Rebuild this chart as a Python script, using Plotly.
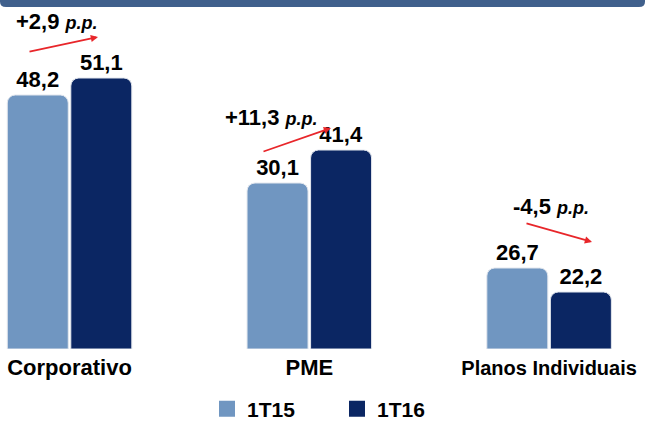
import plotly.graph_objects as go

# ---- data ----
categories = ["Corporativo", "PME", "Planos Individuais"]
labels_1T15 = ["48,2", "30,1", "26,7"]
labels_1T16 = ["51,1", "41,4", "22,2"]
# drawn bar heights (relative units as they appear in the picture)
heights_1T15 = [254, 166, 81]
heights_1T16 = [271, 199, 57]
changes = ["+2,9", "+11,3", "-4,5"]
series_names = ["1T15", "1T16"]

FONT = "Liberation Sans, Arial, sans-serif"
LIGHT = "#7096c1"
DARK = "#0b2663"

W, H = 645, 421
PLOT_TOP, PLOT_BOT = 49, 349
PH = PLOT_BOT - PLOT_TOP

def px(x):
    return x / W

def py(y):
    return (PLOT_BOT - y) / PH

fig = go.Figure()
for name, heights, labels, color in [
    (series_names[0], heights_1T15, labels_1T15, LIGHT),
    (series_names[1], heights_1T16, labels_1T16, DARK),
]:
    fig.add_trace(go.Bar(
        name=name, x=categories, y=heights,
        marker=dict(color=color, line=dict(color="#e3e7ee", width=1)),
        text=labels, textposition="outside", cliponaxis=False,
        textfont=dict(family=FONT, size=22, color="#000000"),
        texttemplate="<b>%{text}</b>", showlegend=False,
    ))
# legend entries with larger square swatches
for name, color in [(series_names[0], LIGHT), (series_names[1], DARK)]:
    fig.add_trace(go.Scatter(x=[None], y=[None], mode="markers",
                             name=f"<b>{name}</b>",
                             marker=dict(symbol="square", size=20, color=color)))

# change annotations: text center, arrow tail, arrow head (pixels)
ann_geo = [
    ((57, 22), (28, 52), (98, 37)),
    ((271, 117), (262, 152), (331, 128)),
    ((551, 206), (525, 223), (592, 242)),
]
annotations = []
for txt, (tc, tail, head) in zip(changes, ann_geo):
    annotations.append(dict(
        xref="paper", yref="paper", x=px(tc[0]), y=py(tc[1]),
        text=f"<b>{txt} <i><span style='font-size:18px'>p.p.</span></i></b>",
        showarrow=False, font=dict(family=FONT, size=22, color="#000000"),
        xanchor="center", yanchor="middle",
    ))
    annotations.append(dict(
        xref="paper", yref="paper", x=px(head[0]), y=py(head[1]),
        ax=tail[0] - head[0], ay=tail[1] - head[1],
        axref="pixel", ayref="pixel", text="", showarrow=True,
        arrowhead=2, arrowsize=0.8, arrowwidth=1.8, arrowcolor="#e8262a",
    ))

# top banner with rounded bottom corners
r_x, r_y = 6 / W, 6 / PH
top, bot = py(0), py(7)
banner = (f"M 0,{top} L 1,{top} L 1,{top - r_y*0.3} Q 1,{bot} {1 - r_x},{bot} "
          f"L {r_x},{bot} Q 0,{bot} 0,{top - r_y*0.3} Z")

tick_sizes = [22, 22, 20]
fig.update_layout(
    width=W, height=H,
    margin=dict(l=0, r=0, t=PLOT_TOP, b=H - PLOT_BOT, pad=0, autoexpand=False),
    paper_bgcolor="#ffffff", plot_bgcolor="#ffffff",
    barmode="group", bargap=0.47, bargroupgap=0.04, barcornerradius=8,
    font=dict(family=FONT, color="#000000"),
    xaxis=dict(range=[-0.29, 2.40], showgrid=False, zeroline=False,
               showline=False, ticks="",
               tickfont=dict(family=FONT, size=22, color="#000000"),
               ticklabelstandoff=3,
               tickvals=categories,
               ticktext=[f"<b><span style='font-size:{s}px'>{c}</span></b>"
                         for c, s in zip(categories, tick_sizes)]),
    yaxis=dict(range=[0, PH], visible=False, showgrid=False, zeroline=False),
    legend=dict(orientation="h", x=px(337), xanchor="center",
                y=py(409), yanchor="middle",
                font=dict(family=FONT, size=21, color="#000000"),
                itemwidth=30, entrywidth=85, entrywidthmode="pixels",
                traceorder="normal"),
    annotations=annotations,
    shapes=[dict(type="path", xref="paper", yref="paper", path=banner,
                 fillcolor="#40608c", line=dict(width=0), layer="above")],
)

fig.write_html("out.html", config={"displayModeBar": False},
               post_script="document.body.style.margin='0';")
